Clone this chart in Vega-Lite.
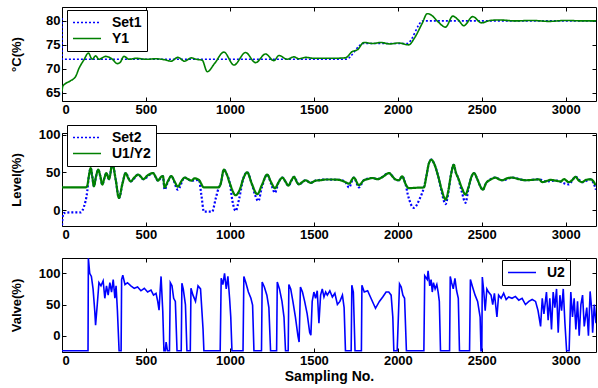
{
  "$schema": "https://vega.github.io/schema/vega-lite/v6.json",
  "padding": {"left": 9, "top": 6, "right": 0, "bottom": 0},
  "background": "white",
  "spacing": 32,
  "bounds": "flush",
  "config": {
    "view": {"stroke": "black", "strokeWidth": 1},
    "font": "Liberation Sans",
    "axis": {
      "labelFont": "Liberation Sans", "labelFontWeight": "bold", "labelFontSize": 13, "labelColor": "black",
      "titleFont": "Liberation Sans", "titleFontWeight": "bold", "titleFontSize": 13, "titleColor": "black",
      "domain": false, "grid": false, "tickColor": "black", "tickSize": -4, "labelPadding": 6
    },
    "legend": {
      "labelFont": "Liberation Sans", "labelFontWeight": "bold", "labelFontSize": 14, "labelColor": "black",
      "strokeColor": "black", "fillColor": "white", "padding": 5, "cornerRadius": 0,
      "symbolType": "stroke", "symbolSize": 784, "symbolStrokeWidth": 1.5, "clipHeight": 15,
      "labelOffset": 10, "rowPadding": 1, "symbolOpacity": 1
    }
  },
  "resolve": {"scale": {"color": "independent", "strokeDash": "independent"}, "legend": {"color": "independent", "strokeDash": "independent"}},
  "datasets": {
    "p1": [
      {"x": 0, "v": 80.6, "s": "Set1"}, {"x": 1, "v": 72, "s": "Set1"}, {"x": 1690, "v": 72, "s": "Set1"}, {"x": 1795, "v": 75.3, "s": "Set1"}, {"x": 2055, "v": 75.3, "s": "Set1"}, {"x": 2150, "v": 80, "s": "Set1"}, {"x": 3180, "v": 80, "s": "Set1"},
      {"x": 0, "v": 65.3, "s": "Y1"}, {"x": 5, "v": 66.4, "s": "Y1"}, {"x": 20, "v": 66.9, "s": "Y1"}, {"x": 50, "v": 67.5, "s": "Y1"}, {"x": 81, "v": 68.4, "s": "Y1"}, {"x": 101, "v": 70.1, "s": "Y1"}, {"x": 131, "v": 71.9, "s": "Y1"}, {"x": 157, "v": 73.3, "s": "Y1"}, {"x": 180, "v": 72, "s": "Y1"}, {"x": 200, "v": 72.7, "s": "Y1"}, {"x": 220, "v": 72, "s": "Y1"}, {"x": 260, "v": 72.6, "s": "Y1"}, {"x": 300, "v": 72, "s": "Y1"}, {"x": 329, "v": 71.1, "s": "Y1"}, {"x": 345, "v": 71.3, "s": "Y1"}, {"x": 369, "v": 72.6, "s": "Y1"}, {"x": 400, "v": 72, "s": "Y1"}, {"x": 440, "v": 72.2, "s": "Y1"}, {"x": 500, "v": 72, "s": "Y1"}, {"x": 560, "v": 72.1, "s": "Y1"}, {"x": 610, "v": 71.9, "s": "Y1"}, {"x": 650, "v": 71.6, "s": "Y1"}, {"x": 690, "v": 72.4, "s": "Y1"}, {"x": 730, "v": 71.6, "s": "Y1"}, {"x": 770, "v": 72.3, "s": "Y1"}, {"x": 800, "v": 72, "s": "Y1"}, {"x": 835, "v": 71.8, "s": "Y1"}, {"x": 865, "v": 69.4, "s": "Y1"}, {"x": 910, "v": 71.2, "s": "Y1"}, {"x": 964, "v": 73.5, "s": "Y1"}, {"x": 1024, "v": 70.8, "s": "Y1"}, {"x": 1093, "v": 73.4, "s": "Y1"}, {"x": 1153, "v": 71.3, "s": "Y1"}, {"x": 1212, "v": 73.1, "s": "Y1"}, {"x": 1262, "v": 71.7, "s": "Y1"}, {"x": 1292, "v": 72.8, "s": "Y1"}, {"x": 1341, "v": 72, "s": "Y1"}, {"x": 1380, "v": 72.5, "s": "Y1"}, {"x": 1411, "v": 72.1, "s": "Y1"}, {"x": 1450, "v": 72.4, "s": "Y1"}, {"x": 1500, "v": 72.2, "s": "Y1"}, {"x": 1600, "v": 72.2, "s": "Y1"}, {"x": 1688, "v": 72.3, "s": "Y1"}, {"x": 1728, "v": 73.6, "s": "Y1"}, {"x": 1760, "v": 74, "s": "Y1"}, {"x": 1798, "v": 75.5, "s": "Y1"}, {"x": 1850, "v": 75.3, "s": "Y1"}, {"x": 1900, "v": 75.5, "s": "Y1"}, {"x": 1950, "v": 75.2, "s": "Y1"}, {"x": 2006, "v": 75.4, "s": "Y1"}, {"x": 2065, "v": 75, "s": "Y1"}, {"x": 2100, "v": 76.5, "s": "Y1"}, {"x": 2145, "v": 79.5, "s": "Y1"}, {"x": 2175, "v": 81.5, "s": "Y1"}, {"x": 2200, "v": 81.2, "s": "Y1"}, {"x": 2240, "v": 79.8, "s": "Y1"}, {"x": 2284, "v": 78.7, "s": "Y1"}, {"x": 2327, "v": 81, "s": "Y1"}, {"x": 2360, "v": 80.2, "s": "Y1"}, {"x": 2393, "v": 79, "s": "Y1"}, {"x": 2446, "v": 80.9, "s": "Y1"}, {"x": 2498, "v": 79.6, "s": "Y1"}, {"x": 2550, "v": 80.1, "s": "Y1"}, {"x": 2600, "v": 80.2, "s": "Y1"}, {"x": 2700, "v": 80, "s": "Y1"}, {"x": 2800, "v": 80.1, "s": "Y1"}, {"x": 2900, "v": 79.9, "s": "Y1"}, {"x": 3000, "v": 80.1, "s": "Y1"}, {"x": 3100, "v": 80, "s": "Y1"}, {"x": 3180, "v": 80, "s": "Y1"}
    ],
    "p2": [
      {"x": 0, "v": -20, "s": "Set2"}, {"x": 3, "v": -10, "s": "Set2"}, {"x": 10, "v": -4, "s": "Set2"}, {"x": 60, "v": -3, "s": "Set2"}, {"x": 111, "v": -3, "s": "Set2"}, {"x": 130, "v": 4, "s": "Set2"}, {"x": 151, "v": 26, "s": "Set2"}, {"x": 160, "v": 45, "s": "Set2"}, {"x": 171, "v": 55.7, "s": "Set2"}, {"x": 180, "v": 45, "s": "Set2"}, {"x": 190, "v": 31.6, "s": "Set2"}, {"x": 203, "v": 45, "s": "Set2"}, {"x": 216, "v": 53.5, "s": "Set2"}, {"x": 228, "v": 45, "s": "Set2"}, {"x": 240, "v": 33.8, "s": "Set2"}, {"x": 252, "v": 42, "s": "Set2"}, {"x": 264, "v": 49, "s": "Set2"}, {"x": 280, "v": 41, "s": "Set2"}, {"x": 300, "v": 61, "s": "Set2"}, {"x": 320, "v": 40, "s": "Set2"}, {"x": 339, "v": 16, "s": "Set2"}, {"x": 360, "v": 35, "s": "Set2"}, {"x": 379, "v": 49, "s": "Set2"}, {"x": 409, "v": 38, "s": "Set2"}, {"x": 454, "v": 47, "s": "Set2"}, {"x": 484, "v": 41, "s": "Set2"}, {"x": 542, "v": 49, "s": "Set2"}, {"x": 571, "v": 39, "s": "Set2"}, {"x": 601, "v": 45, "s": "Set2"}, {"x": 611, "v": 27, "s": "Set2"}, {"x": 630, "v": 37, "s": "Set2"}, {"x": 651, "v": 45, "s": "Set2"}, {"x": 690, "v": 27, "s": "Set2"}, {"x": 730, "v": 43, "s": "Set2"}, {"x": 770, "v": 39, "s": "Set2"}, {"x": 815, "v": 40, "s": "Set2"}, {"x": 830, "v": 20, "s": "Set2"}, {"x": 845, "v": -2, "s": "Set2"}, {"x": 894, "v": -2, "s": "Set2"}, {"x": 915, "v": 15, "s": "Set2"}, {"x": 934, "v": 30, "s": "Set2"}, {"x": 944, "v": 34, "s": "Set2"}, {"x": 964, "v": 53.5, "s": "Set2"}, {"x": 980, "v": 48, "s": "Set2"}, {"x": 1000, "v": 35, "s": "Set2"}, {"x": 1015, "v": 12, "s": "Set2"}, {"x": 1034, "v": -1, "s": "Set2"}, {"x": 1055, "v": 15, "s": "Set2"}, {"x": 1080, "v": 42, "s": "Set2"}, {"x": 1103, "v": 50, "s": "Set2"}, {"x": 1130, "v": 35, "s": "Set2"}, {"x": 1150, "v": 20, "s": "Set2"}, {"x": 1169, "v": 12, "s": "Set2"}, {"x": 1190, "v": 30, "s": "Set2"}, {"x": 1222, "v": 47, "s": "Set2"}, {"x": 1245, "v": 35, "s": "Set2"}, {"x": 1268, "v": 23, "s": "Set2"}, {"x": 1290, "v": 37, "s": "Set2"}, {"x": 1312, "v": 43, "s": "Set2"}, {"x": 1348, "v": 32.5, "s": "Set2"}, {"x": 1382, "v": 44, "s": "Set2"}, {"x": 1411, "v": 34, "s": "Set2"}, {"x": 1451, "v": 39.5, "s": "Set2"}, {"x": 1481, "v": 36, "s": "Set2"}, {"x": 1510, "v": 39, "s": "Set2"}, {"x": 1570, "v": 40.5, "s": "Set2"}, {"x": 1650, "v": 40, "s": "Set2"}, {"x": 1688, "v": 37, "s": "Set2"}, {"x": 1709, "v": 30, "s": "Set2"}, {"x": 1738, "v": 43, "s": "Set2"}, {"x": 1768, "v": 30, "s": "Set2"}, {"x": 1798, "v": 39.5, "s": "Set2"}, {"x": 1847, "v": 42.5, "s": "Set2"}, {"x": 1880, "v": 41, "s": "Set2"}, {"x": 1947, "v": 49, "s": "Set2"}, {"x": 1986, "v": 40.5, "s": "Set2"}, {"x": 2006, "v": 39.5, "s": "Set2"}, {"x": 2026, "v": 44.7, "s": "Set2"}, {"x": 2045, "v": 35, "s": "Set2"}, {"x": 2060, "v": 20, "s": "Set2"}, {"x": 2095, "v": 3, "s": "Set2"}, {"x": 2130, "v": 15, "s": "Set2"}, {"x": 2155, "v": 30, "s": "Set2"}, {"x": 2170, "v": 45, "s": "Set2"}, {"x": 2185, "v": 62, "s": "Set2"}, {"x": 2200, "v": 66.7, "s": "Set2"}, {"x": 2215, "v": 62, "s": "Set2"}, {"x": 2240, "v": 45, "s": "Set2"}, {"x": 2260, "v": 25, "s": "Set2"}, {"x": 2284, "v": 8, "s": "Set2"}, {"x": 2300, "v": 22, "s": "Set2"}, {"x": 2315, "v": 45, "s": "Set2"}, {"x": 2333, "v": 60, "s": "Set2"}, {"x": 2345, "v": 50, "s": "Set2"}, {"x": 2360, "v": 42, "s": "Set2"}, {"x": 2380, "v": 25, "s": "Set2"}, {"x": 2403, "v": 9.6, "s": "Set2"}, {"x": 2420, "v": 28, "s": "Set2"}, {"x": 2440, "v": 45, "s": "Set2"}, {"x": 2453, "v": 49, "s": "Set2"}, {"x": 2475, "v": 40, "s": "Set2"}, {"x": 2490, "v": 32, "s": "Set2"}, {"x": 2506, "v": 27, "s": "Set2"}, {"x": 2526, "v": 36, "s": "Set2"}, {"x": 2582, "v": 43, "s": "Set2"}, {"x": 2621, "v": 39.5, "s": "Set2"}, {"x": 2681, "v": 43, "s": "Set2"}, {"x": 2760, "v": 39.5, "s": "Set2"}, {"x": 2840, "v": 40.7, "s": "Set2"}, {"x": 2879, "v": 38, "s": "Set2"}, {"x": 2939, "v": 39, "s": "Set2"}, {"x": 3018, "v": 34, "s": "Set2"}, {"x": 3058, "v": 44, "s": "Set2"}, {"x": 3098, "v": 37, "s": "Set2"}, {"x": 3147, "v": 40.7, "s": "Set2"}, {"x": 3165, "v": 36, "s": "Set2"}, {"x": 3180, "v": 27, "s": "Set2"},
      {"x": 0, "v": 30, "s": "U1/Y2"}, {"x": 140, "v": 30, "s": "U1/Y2"}, {"x": 150, "v": 32, "s": "U1/Y2"}, {"x": 160, "v": 45, "s": "U1/Y2"}, {"x": 171, "v": 55.7, "s": "U1/Y2"}, {"x": 180, "v": 45, "s": "U1/Y2"}, {"x": 190, "v": 31.6, "s": "U1/Y2"}, {"x": 203, "v": 45, "s": "U1/Y2"}, {"x": 216, "v": 53.5, "s": "U1/Y2"}, {"x": 228, "v": 45, "s": "U1/Y2"}, {"x": 240, "v": 33.8, "s": "U1/Y2"}, {"x": 252, "v": 42, "s": "U1/Y2"}, {"x": 264, "v": 49, "s": "U1/Y2"}, {"x": 280, "v": 41, "s": "U1/Y2"}, {"x": 300, "v": 61, "s": "U1/Y2"}, {"x": 320, "v": 40, "s": "U1/Y2"}, {"x": 339, "v": 16, "s": "U1/Y2"}, {"x": 360, "v": 35, "s": "U1/Y2"}, {"x": 379, "v": 49, "s": "U1/Y2"}, {"x": 395, "v": 42, "s": "U1/Y2"}, {"x": 409, "v": 38, "s": "U1/Y2"}, {"x": 430, "v": 43, "s": "U1/Y2"}, {"x": 454, "v": 47, "s": "U1/Y2"}, {"x": 470, "v": 44, "s": "U1/Y2"}, {"x": 484, "v": 41, "s": "U1/Y2"}, {"x": 510, "v": 46, "s": "U1/Y2"}, {"x": 542, "v": 49, "s": "U1/Y2"}, {"x": 560, "v": 43, "s": "U1/Y2"}, {"x": 571, "v": 39, "s": "U1/Y2"}, {"x": 590, "v": 44, "s": "U1/Y2"}, {"x": 601, "v": 45, "s": "U1/Y2"}, {"x": 611, "v": 30, "s": "U1/Y2"}, {"x": 630, "v": 38, "s": "U1/Y2"}, {"x": 651, "v": 45, "s": "U1/Y2"}, {"x": 670, "v": 38, "s": "U1/Y2"}, {"x": 690, "v": 31, "s": "U1/Y2"}, {"x": 710, "v": 38, "s": "U1/Y2"}, {"x": 730, "v": 43, "s": "U1/Y2"}, {"x": 750, "v": 41, "s": "U1/Y2"}, {"x": 770, "v": 39, "s": "U1/Y2"}, {"x": 790, "v": 42, "s": "U1/Y2"}, {"x": 815, "v": 40, "s": "U1/Y2"}, {"x": 845, "v": 30, "s": "U1/Y2"}, {"x": 930, "v": 30, "s": "U1/Y2"}, {"x": 944, "v": 34, "s": "U1/Y2"}, {"x": 964, "v": 53.5, "s": "U1/Y2"}, {"x": 980, "v": 48, "s": "U1/Y2"}, {"x": 1000, "v": 35, "s": "U1/Y2"}, {"x": 1034, "v": 19.7, "s": "U1/Y2"}, {"x": 1060, "v": 28, "s": "U1/Y2"}, {"x": 1080, "v": 42, "s": "U1/Y2"}, {"x": 1103, "v": 50, "s": "U1/Y2"}, {"x": 1130, "v": 35, "s": "U1/Y2"}, {"x": 1163, "v": 21, "s": "U1/Y2"}, {"x": 1190, "v": 33, "s": "U1/Y2"}, {"x": 1222, "v": 47, "s": "U1/Y2"}, {"x": 1245, "v": 37, "s": "U1/Y2"}, {"x": 1268, "v": 29, "s": "U1/Y2"}, {"x": 1290, "v": 37, "s": "U1/Y2"}, {"x": 1312, "v": 43, "s": "U1/Y2"}, {"x": 1330, "v": 38, "s": "U1/Y2"}, {"x": 1348, "v": 32.5, "s": "U1/Y2"}, {"x": 1365, "v": 39, "s": "U1/Y2"}, {"x": 1382, "v": 44, "s": "U1/Y2"}, {"x": 1396, "v": 38, "s": "U1/Y2"}, {"x": 1411, "v": 34, "s": "U1/Y2"}, {"x": 1430, "v": 37, "s": "U1/Y2"}, {"x": 1451, "v": 39.5, "s": "U1/Y2"}, {"x": 1481, "v": 36, "s": "U1/Y2"}, {"x": 1510, "v": 39, "s": "U1/Y2"}, {"x": 1540, "v": 39.5, "s": "U1/Y2"}, {"x": 1570, "v": 40.5, "s": "U1/Y2"}, {"x": 1610, "v": 40.5, "s": "U1/Y2"}, {"x": 1650, "v": 40, "s": "U1/Y2"}, {"x": 1688, "v": 37, "s": "U1/Y2"}, {"x": 1709, "v": 35, "s": "U1/Y2"}, {"x": 1738, "v": 43, "s": "U1/Y2"}, {"x": 1768, "v": 33, "s": "U1/Y2"}, {"x": 1798, "v": 39.5, "s": "U1/Y2"}, {"x": 1820, "v": 41, "s": "U1/Y2"}, {"x": 1847, "v": 42.5, "s": "U1/Y2"}, {"x": 1880, "v": 41, "s": "U1/Y2"}, {"x": 1910, "v": 44, "s": "U1/Y2"}, {"x": 1947, "v": 49, "s": "U1/Y2"}, {"x": 1970, "v": 44, "s": "U1/Y2"}, {"x": 1986, "v": 40.5, "s": "U1/Y2"}, {"x": 2006, "v": 39.5, "s": "U1/Y2"}, {"x": 2026, "v": 44.7, "s": "U1/Y2"}, {"x": 2045, "v": 35, "s": "U1/Y2"}, {"x": 2065, "v": 29, "s": "U1/Y2"}, {"x": 2100, "v": 29.5, "s": "U1/Y2"}, {"x": 2155, "v": 30, "s": "U1/Y2"}, {"x": 2170, "v": 45, "s": "U1/Y2"}, {"x": 2185, "v": 62, "s": "U1/Y2"}, {"x": 2200, "v": 66.7, "s": "U1/Y2"}, {"x": 2215, "v": 62, "s": "U1/Y2"}, {"x": 2240, "v": 45, "s": "U1/Y2"}, {"x": 2260, "v": 28, "s": "U1/Y2"}, {"x": 2284, "v": 14, "s": "U1/Y2"}, {"x": 2300, "v": 25, "s": "U1/Y2"}, {"x": 2315, "v": 45, "s": "U1/Y2"}, {"x": 2333, "v": 60, "s": "U1/Y2"}, {"x": 2345, "v": 50, "s": "U1/Y2"}, {"x": 2360, "v": 42, "s": "U1/Y2"}, {"x": 2380, "v": 30, "s": "U1/Y2"}, {"x": 2403, "v": 20.6, "s": "U1/Y2"}, {"x": 2420, "v": 30, "s": "U1/Y2"}, {"x": 2440, "v": 45, "s": "U1/Y2"}, {"x": 2453, "v": 49, "s": "U1/Y2"}, {"x": 2475, "v": 40, "s": "U1/Y2"}, {"x": 2490, "v": 32, "s": "U1/Y2"}, {"x": 2506, "v": 27, "s": "U1/Y2"}, {"x": 2526, "v": 36, "s": "U1/Y2"}, {"x": 2550, "v": 40, "s": "U1/Y2"}, {"x": 2582, "v": 43, "s": "U1/Y2"}, {"x": 2600, "v": 41, "s": "U1/Y2"}, {"x": 2621, "v": 39.5, "s": "U1/Y2"}, {"x": 2650, "v": 42, "s": "U1/Y2"}, {"x": 2681, "v": 43, "s": "U1/Y2"}, {"x": 2720, "v": 41, "s": "U1/Y2"}, {"x": 2760, "v": 39.5, "s": "U1/Y2"}, {"x": 2800, "v": 40, "s": "U1/Y2"}, {"x": 2840, "v": 40.7, "s": "U1/Y2"}, {"x": 2860, "v": 37, "s": "U1/Y2"}, {"x": 2879, "v": 38, "s": "U1/Y2"}, {"x": 2910, "v": 40, "s": "U1/Y2"}, {"x": 2939, "v": 39, "s": "U1/Y2"}, {"x": 2970, "v": 38, "s": "U1/Y2"}, {"x": 2990, "v": 41, "s": "U1/Y2"}, {"x": 3018, "v": 37, "s": "U1/Y2"}, {"x": 3040, "v": 40, "s": "U1/Y2"}, {"x": 3058, "v": 44, "s": "U1/Y2"}, {"x": 3078, "v": 39, "s": "U1/Y2"}, {"x": 3098, "v": 37, "s": "U1/Y2"}, {"x": 3120, "v": 40, "s": "U1/Y2"}, {"x": 3147, "v": 40.7, "s": "U1/Y2"}, {"x": 3165, "v": 38, "s": "U1/Y2"}, {"x": 3177, "v": 33, "s": "U1/Y2"}
    ],
    "p3": [
      {"x": 0, "v": -24, "s": "U2"}, {"x": 155, "v": -24, "s": "U2"}, {"x": 157, "v": 124, "s": "U2"}, {"x": 165, "v": 100, "s": "U2"}, {"x": 175, "v": 95, "s": "U2"}, {"x": 185, "v": 75, "s": "U2"}, {"x": 195, "v": 40, "s": "U2"}, {"x": 200, "v": 17, "s": "U2"}, {"x": 210, "v": 50, "s": "U2"}, {"x": 220, "v": 85, "s": "U2"}, {"x": 232, "v": 80, "s": "U2"}, {"x": 245, "v": 88, "s": "U2"}, {"x": 255, "v": 60, "s": "U2"}, {"x": 265, "v": 80, "s": "U2"}, {"x": 275, "v": 65, "s": "U2"}, {"x": 285, "v": 85, "s": "U2"}, {"x": 295, "v": 70, "s": "U2"}, {"x": 305, "v": 90, "s": "U2"}, {"x": 315, "v": 60, "s": "U2"}, {"x": 322, "v": 80, "s": "U2"}, {"x": 330, "v": 40, "s": "U2"}, {"x": 340, "v": -24, "s": "U2"}, {"x": 352, "v": -24, "s": "U2"}, {"x": 355, "v": 90, "s": "U2"}, {"x": 362, "v": 97, "s": "U2"}, {"x": 375, "v": 82, "s": "U2"}, {"x": 390, "v": 85, "s": "U2"}, {"x": 410, "v": 80, "s": "U2"}, {"x": 430, "v": 76, "s": "U2"}, {"x": 450, "v": 78, "s": "U2"}, {"x": 470, "v": 72, "s": "U2"}, {"x": 490, "v": 76, "s": "U2"}, {"x": 510, "v": 70, "s": "U2"}, {"x": 530, "v": 73, "s": "U2"}, {"x": 545, "v": 65, "s": "U2"}, {"x": 560, "v": 68, "s": "U2"}, {"x": 570, "v": 55, "s": "U2"}, {"x": 578, "v": 41, "s": "U2"}, {"x": 584, "v": 70, "s": "U2"}, {"x": 590, "v": 95, "s": "U2"}, {"x": 600, "v": 40, "s": "U2"}, {"x": 607, "v": -24, "s": "U2"}, {"x": 615, "v": -24, "s": "U2"}, {"x": 620, "v": -10, "s": "U2"}, {"x": 628, "v": -24, "s": "U2"}, {"x": 640, "v": -24, "s": "U2"}, {"x": 645, "v": 85, "s": "U2"}, {"x": 655, "v": 80, "s": "U2"}, {"x": 665, "v": 60, "s": "U2"}, {"x": 675, "v": 55, "s": "U2"}, {"x": 685, "v": -24, "s": "U2"}, {"x": 710, "v": -24, "s": "U2"}, {"x": 714, "v": 84, "s": "U2"}, {"x": 722, "v": 75, "s": "U2"}, {"x": 735, "v": 50, "s": "U2"}, {"x": 744, "v": -24, "s": "U2"}, {"x": 764, "v": -24, "s": "U2"}, {"x": 768, "v": 76, "s": "U2"}, {"x": 780, "v": 65, "s": "U2"}, {"x": 795, "v": 55, "s": "U2"}, {"x": 810, "v": 80, "s": "U2"}, {"x": 825, "v": 75, "s": "U2"}, {"x": 840, "v": 10, "s": "U2"}, {"x": 845, "v": -24, "s": "U2"}, {"x": 942, "v": -24, "s": "U2"}, {"x": 948, "v": 92, "s": "U2"}, {"x": 958, "v": 82, "s": "U2"}, {"x": 968, "v": 100, "s": "U2"}, {"x": 978, "v": 75, "s": "U2"}, {"x": 988, "v": 95, "s": "U2"}, {"x": 998, "v": 60, "s": "U2"}, {"x": 1005, "v": 30, "s": "U2"}, {"x": 1012, "v": -24, "s": "U2"}, {"x": 1078, "v": -24, "s": "U2"}, {"x": 1083, "v": 95, "s": "U2"}, {"x": 1095, "v": 85, "s": "U2"}, {"x": 1110, "v": 70, "s": "U2"}, {"x": 1125, "v": 60, "s": "U2"}, {"x": 1135, "v": 49, "s": "U2"}, {"x": 1143, "v": -24, "s": "U2"}, {"x": 1188, "v": -24, "s": "U2"}, {"x": 1192, "v": 86, "s": "U2"}, {"x": 1205, "v": 78, "s": "U2"}, {"x": 1220, "v": 65, "s": "U2"}, {"x": 1232, "v": 45, "s": "U2"}, {"x": 1242, "v": -24, "s": "U2"}, {"x": 1278, "v": -24, "s": "U2"}, {"x": 1282, "v": 86, "s": "U2"}, {"x": 1295, "v": 75, "s": "U2"}, {"x": 1310, "v": 55, "s": "U2"}, {"x": 1322, "v": 30, "s": "U2"}, {"x": 1331, "v": -24, "s": "U2"}, {"x": 1347, "v": -24, "s": "U2"}, {"x": 1351, "v": 82, "s": "U2"}, {"x": 1362, "v": 75, "s": "U2"}, {"x": 1375, "v": 55, "s": "U2"}, {"x": 1390, "v": 30, "s": "U2"}, {"x": 1405, "v": 0, "s": "U2"}, {"x": 1412, "v": -10, "s": "U2"}, {"x": 1420, "v": 78, "s": "U2"}, {"x": 1432, "v": 70, "s": "U2"}, {"x": 1445, "v": 55, "s": "U2"}, {"x": 1460, "v": 35, "s": "U2"}, {"x": 1475, "v": 5, "s": "U2"}, {"x": 1482, "v": 1, "s": "U2"}, {"x": 1490, "v": 55, "s": "U2"}, {"x": 1500, "v": 70, "s": "U2"}, {"x": 1510, "v": 60, "s": "U2"}, {"x": 1520, "v": 72, "s": "U2"}, {"x": 1530, "v": 20, "s": "U2"}, {"x": 1540, "v": 65, "s": "U2"}, {"x": 1550, "v": 75, "s": "U2"}, {"x": 1560, "v": 62, "s": "U2"}, {"x": 1570, "v": 70, "s": "U2"}, {"x": 1580, "v": 65, "s": "U2"}, {"x": 1595, "v": 72, "s": "U2"}, {"x": 1610, "v": 62, "s": "U2"}, {"x": 1625, "v": 68, "s": "U2"}, {"x": 1640, "v": 50, "s": "U2"}, {"x": 1655, "v": 55, "s": "U2"}, {"x": 1670, "v": 65, "s": "U2"}, {"x": 1680, "v": 45, "s": "U2"}, {"x": 1688, "v": -24, "s": "U2"}, {"x": 1722, "v": -24, "s": "U2"}, {"x": 1726, "v": 81, "s": "U2"}, {"x": 1735, "v": 70, "s": "U2"}, {"x": 1745, "v": -24, "s": "U2"}, {"x": 1783, "v": -24, "s": "U2"}, {"x": 1786, "v": 81, "s": "U2"}, {"x": 1800, "v": 70, "s": "U2"}, {"x": 1820, "v": 72, "s": "U2"}, {"x": 1840, "v": 60, "s": "U2"}, {"x": 1867, "v": 44, "s": "U2"}, {"x": 1890, "v": 55, "s": "U2"}, {"x": 1910, "v": 62, "s": "U2"}, {"x": 1930, "v": 70, "s": "U2"}, {"x": 1946, "v": 70, "s": "U2"}, {"x": 1960, "v": 65, "s": "U2"}, {"x": 1970, "v": 30, "s": "U2"}, {"x": 1976, "v": -24, "s": "U2"}, {"x": 1996, "v": -24, "s": "U2"}, {"x": 2010, "v": 83, "s": "U2"}, {"x": 2020, "v": 78, "s": "U2"}, {"x": 2030, "v": 65, "s": "U2"}, {"x": 2040, "v": 60, "s": "U2"}, {"x": 2051, "v": -24, "s": "U2"}, {"x": 2155, "v": -24, "s": "U2"}, {"x": 2160, "v": 96, "s": "U2"}, {"x": 2175, "v": 90, "s": "U2"}, {"x": 2180, "v": 104, "s": "U2"}, {"x": 2190, "v": 80, "s": "U2"}, {"x": 2198, "v": 90, "s": "U2"}, {"x": 2205, "v": 70, "s": "U2"}, {"x": 2212, "v": 85, "s": "U2"}, {"x": 2222, "v": 75, "s": "U2"}, {"x": 2232, "v": 82, "s": "U2"}, {"x": 2240, "v": 70, "s": "U2"}, {"x": 2247, "v": 55, "s": "U2"}, {"x": 2254, "v": -24, "s": "U2"}, {"x": 2308, "v": -24, "s": "U2"}, {"x": 2312, "v": 95, "s": "U2"}, {"x": 2320, "v": 85, "s": "U2"}, {"x": 2330, "v": 75, "s": "U2"}, {"x": 2340, "v": 92, "s": "U2"}, {"x": 2350, "v": 72, "s": "U2"}, {"x": 2360, "v": 60, "s": "U2"}, {"x": 2367, "v": -24, "s": "U2"}, {"x": 2427, "v": -24, "s": "U2"}, {"x": 2432, "v": 90, "s": "U2"}, {"x": 2445, "v": 78, "s": "U2"}, {"x": 2460, "v": 65, "s": "U2"}, {"x": 2475, "v": 55, "s": "U2"}, {"x": 2490, "v": 30, "s": "U2"}, {"x": 2495, "v": -24, "s": "U2"}, {"x": 2500, "v": -24, "s": "U2"}, {"x": 2503, "v": 94, "s": "U2"}, {"x": 2512, "v": 70, "s": "U2"}, {"x": 2520, "v": 40, "s": "U2"}, {"x": 2530, "v": 75, "s": "U2"}, {"x": 2540, "v": 70, "s": "U2"}, {"x": 2555, "v": 65, "s": "U2"}, {"x": 2565, "v": 50, "s": "U2"}, {"x": 2575, "v": 68, "s": "U2"}, {"x": 2590, "v": 30, "s": "U2"}, {"x": 2600, "v": 65, "s": "U2"}, {"x": 2615, "v": 60, "s": "U2"}, {"x": 2630, "v": 68, "s": "U2"}, {"x": 2645, "v": 58, "s": "U2"}, {"x": 2660, "v": 62, "s": "U2"}, {"x": 2680, "v": 60, "s": "U2"}, {"x": 2700, "v": 63, "s": "U2"}, {"x": 2720, "v": 57, "s": "U2"}, {"x": 2740, "v": 60, "s": "U2"}, {"x": 2760, "v": 50, "s": "U2"}, {"x": 2780, "v": 55, "s": "U2"}, {"x": 2800, "v": 58, "s": "U2"}, {"x": 2820, "v": 55, "s": "U2"}, {"x": 2835, "v": 40, "s": "U2"}, {"x": 2850, "v": 15, "s": "U2"}, {"x": 2860, "v": 60, "s": "U2"}, {"x": 2870, "v": 35, "s": "U2"}, {"x": 2885, "v": 70, "s": "U2"}, {"x": 2895, "v": 25, "s": "U2"}, {"x": 2905, "v": 60, "s": "U2"}, {"x": 2915, "v": 10, "s": "U2"}, {"x": 2925, "v": 70, "s": "U2"}, {"x": 2935, "v": 45, "s": "U2"}, {"x": 2945, "v": 75, "s": "U2"}, {"x": 2955, "v": 5, "s": "U2"}, {"x": 2965, "v": 65, "s": "U2"}, {"x": 2975, "v": 40, "s": "U2"}, {"x": 2985, "v": 75, "s": "U2"}, {"x": 2995, "v": 20, "s": "U2"}, {"x": 3005, "v": -24, "s": "U2"}, {"x": 3020, "v": -24, "s": "U2"}, {"x": 3030, "v": 70, "s": "U2"}, {"x": 3040, "v": 30, "s": "U2"}, {"x": 3050, "v": 60, "s": "U2"}, {"x": 3060, "v": 10, "s": "U2"}, {"x": 3070, "v": 55, "s": "U2"}, {"x": 3080, "v": 0, "s": "U2"}, {"x": 3090, "v": 50, "s": "U2"}, {"x": 3100, "v": 65, "s": "U2"}, {"x": 3110, "v": 15, "s": "U2"}, {"x": 3125, "v": 45, "s": "U2"}, {"x": 3135, "v": 0, "s": "U2"}, {"x": 3145, "v": 71, "s": "U2"}, {"x": 3155, "v": 40, "s": "U2"}, {"x": 3160, "v": 5, "s": "U2"}, {"x": 3170, "v": 50, "s": "U2"}, {"x": 3180, "v": 20, "s": "U2"}
    ]
  },
  "vconcat": [
    {
      "width": 534, "height": 94,
      "layer": [
        {
          "data": {"name": "p1"},
          "mark": {"type": "line", "strokeWidth": 1.6, "clip": true, "interpolate": "monotone"},
          "encoding": {
            "x": {"field": "x", "type": "quantitative", "scale": {"domain": [0, 3180], "nice": false, "zero": false}, "axis": {"values": [0, 500, 1000, 1500, 2000, 2500, 3000], "title": null, "format": "d"}},
            "y": {"field": "v", "type": "quantitative", "scale": {"domain": [63.3, 82.9], "nice": false, "zero": false}, "axis": {"values": [65, 70, 75, 80], "title": "°C(%)", "titleX": -39}},
            "color": {"field": "s", "type": "nominal", "scale": {"domain": ["Set1", "Y1"], "range": ["#0000ff", "#008000"]}, "legend": {"title": null, "orient": "none", "legendX": 5, "legendY": 3}},
            "strokeDash": {"field": "s", "type": "nominal", "scale": {"domain": ["Set1", "Y1"], "range": [[2, 2], [1, 0]]}, "legend": {"title": null, "orient": "none", "legendX": 5, "legendY": 3}}
          }
        },
        {
          "data": {"name": "p1"},
          "mark": {"type": "line", "opacity": 0},
          "encoding": {
            "x": {"field": "x", "type": "quantitative", "axis": {"orient": "top", "values": [0, 500, 1000, 1500, 2000, 2500, 3000], "labels": false, "title": null}},
            "y": {"field": "v", "type": "quantitative", "axis": {"orient": "right", "values": [65, 70, 75, 80], "labels": false, "title": null}}
          }
        }
      ],
      "resolve": {"axis": {"x": "independent", "y": "independent"}}
    },
    {
      "width": 534, "height": 93,
      "layer": [
        {
          "data": {"name": "p2"},
          "mark": {"type": "line", "strokeWidth": 2.2, "clip": true, "interpolate": "monotone"},
          "encoding": {
            "x": {"field": "x", "type": "quantitative", "scale": {"domain": [0, 3180], "nice": false, "zero": false}, "axis": {"values": [0, 500, 1000, 1500, 2000, 2500, 3000], "title": null, "format": "d"}},
            "y": {"field": "v", "type": "quantitative", "scale": {"domain": [-21, 102], "nice": false, "zero": false}, "axis": {"values": [0, 50, 100], "title": "Level(%)", "titleX": -39}},
            "color": {"field": "s", "type": "nominal", "scale": {"domain": ["Set2", "U1/Y2"], "range": ["#0000ff", "#008000"]}, "legend": {"title": null, "orient": "none", "legendX": 5, "legendY": -8}},
            "strokeDash": {"field": "s", "type": "nominal", "scale": {"domain": ["Set2", "U1/Y2"], "range": [[2, 2], [1, 0]]}, "legend": {"title": null, "orient": "none", "legendX": 5, "legendY": -8}}
          }
        },
        {
          "data": {"name": "p2"},
          "mark": {"type": "line", "opacity": 0},
          "encoding": {
            "x": {"field": "x", "type": "quantitative", "axis": {"orient": "top", "values": [0, 500, 1000, 1500, 2000, 2500, 3000], "labels": false, "title": null}},
            "y": {"field": "v", "type": "quantitative", "axis": {"orient": "right", "values": [0, 50, 100], "labels": false, "title": null}}
          }
        }
      ],
      "resolve": {"axis": {"x": "independent", "y": "independent"}}
    },
    {
      "width": 534, "height": 94,
      "layer": [
        {
          "data": {"name": "p3"},
          "mark": {"type": "line", "strokeWidth": 1.6, "clip": true},
          "encoding": {
            "x": {"field": "x", "type": "quantitative", "scale": {"domain": [0, 3180], "nice": false, "zero": false}, "axis": {"values": [0, 500, 1000, 1500, 2000, 2500, 3000], "title": "Sampling No.", "format": "d", "titleFontSize": 14, "titlePadding": 2}},
            "y": {"field": "v", "type": "quantitative", "scale": {"domain": [-26, 124.5], "nice": false, "zero": false}, "axis": {"values": [0, 50, 100], "title": "Valve(%)", "titleX": -39}},
            "color": {"field": "s", "type": "nominal", "scale": {"domain": ["U2"], "range": ["#0000ff"]}, "legend": {"title": null, "orient": "none", "legendX": 440, "legendY": 2}}
          }
        },
        {
          "data": {"name": "p3"},
          "mark": {"type": "line", "opacity": 0},
          "encoding": {
            "x": {"field": "x", "type": "quantitative", "axis": {"orient": "top", "values": [0, 500, 1000, 1500, 2000, 2500, 3000], "labels": false, "title": null}},
            "y": {"field": "v", "type": "quantitative", "axis": {"orient": "right", "values": [0, 50, 100], "labels": false, "title": null}}
          }
        }
      ],
      "resolve": {"axis": {"x": "independent", "y": "independent"}}
    }
  ]
}
